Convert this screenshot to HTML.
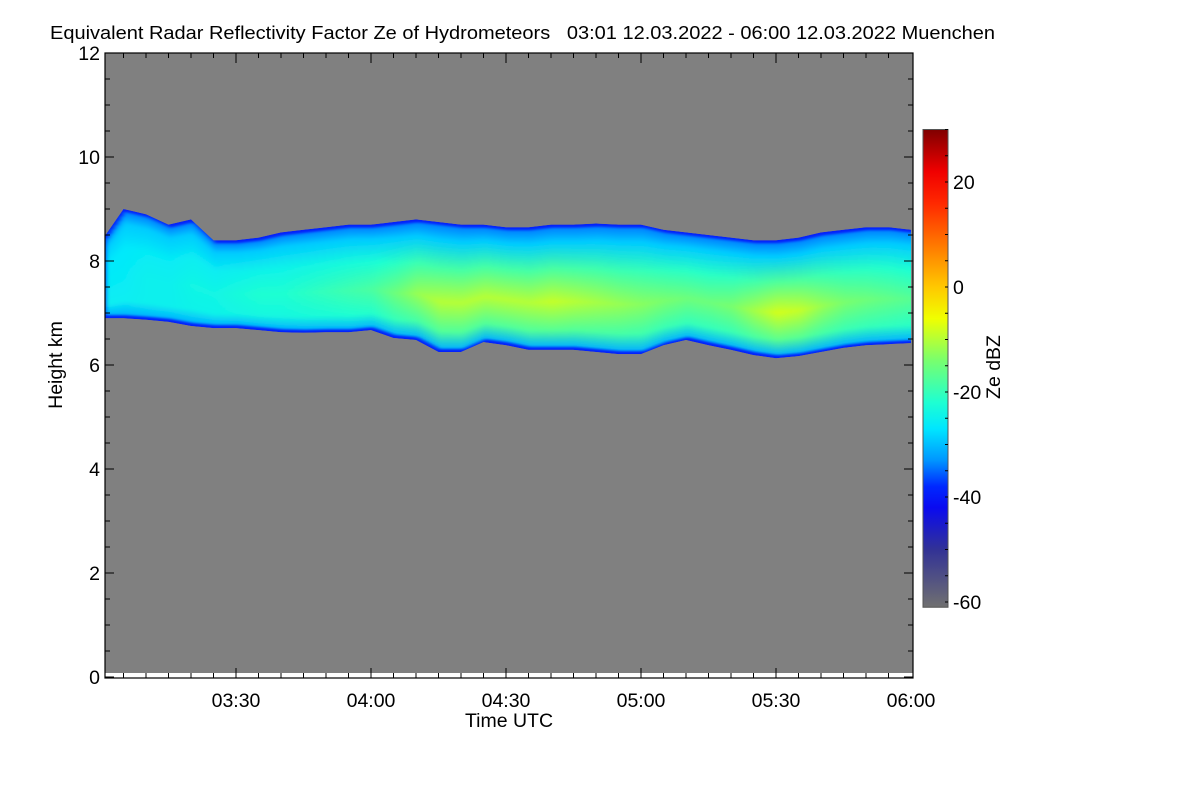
<!DOCTYPE html>
<html><head><meta charset="utf-8"><style>
body{margin:0;background:#fff;}
svg text{font-family:"Liberation Sans",sans-serif;fill:#000;}
</style></head><body>
<svg id="chart" width="1200" height="800" xmlns="http://www.w3.org/2000/svg">
<text x="50" y="39" font-size="18.5" textLength="945" lengthAdjust="spacingAndGlyphs" style="white-space:pre">Equivalent Radar Reflectivity Factor Ze of Hydrometeors   03:01 12.03.2022 - 06:00 12.03.2022 Muenchen</text>
<rect x="105" y="53" width="808" height="620" fill="#808080"/>
<defs id="defs"><filter id="blur" x="-5%" y="-5%" width="110%" height="110%"><feGaussianBlur stdDeviation="2.5 1"/></filter></defs>
<g id="cloud"></g>
<g id="axes"></g>
<g id="cbar"></g>
<text x="509" y="727" font-size="19.5" text-anchor="middle">Time UTC</text>
<text transform="translate(62,365) rotate(-90)" font-size="19.5" text-anchor="middle">Height km</text>
<text transform="translate(1000,367) rotate(-90)" font-size="19.5" text-anchor="middle">Ze dBZ</text>
</svg>
<script>
const times=[1,5,10,15,20,25,30,35,40,45,50,55,60,65,70,75,80,85,90,95,100,105,110,115,120,125,130,135,140,145,150,155,160,165,170,175,180];
const cloudTop=[8.5,9.0,8.9,8.7,8.8,8.4,8.4,8.45,8.55,8.6,8.65,8.7,8.7,8.75,8.8,8.75,8.7,8.7,8.65,8.65,8.7,8.7,8.72,8.7,8.7,8.6,8.55,8.5,8.45,8.4,8.4,8.45,8.55,8.6,8.65,8.65,8.6];
const cloudBase=[6.9,6.9,6.87,6.83,6.75,6.71,6.71,6.67,6.63,6.62,6.63,6.63,6.67,6.52,6.48,6.25,6.25,6.44,6.38,6.29,6.29,6.29,6.25,6.21,6.21,6.38,6.48,6.38,6.29,6.19,6.13,6.17,6.25,6.33,6.38,6.4,6.42];
const coreDbz=[-26,-26,-25,-25,-24,-24,-23,-22,-22,-21,-20,-19,-18,-15,-12,-10,-10,-10,-10,-10,-9,-10,-11,-12,-13,-14,-15,-15,-14,-11,-8,-9,-12,-14,-15,-16,-17];
const yTicks=[0,2,4,6,8,10,12];
const xTickMin=[30,60,90,120,150,180];
const xTickLabels=["03:30","04:00","04:30","05:00","05:30","06:00"];
const cbTicks=[20,0,-20,-40,-60];

const NS="http://www.w3.org/2000/svg";
const X=t=>236+(t-30)*4.5;
const Y=h=>677-h*52;
const CB=d=>287-d*5.25;
const stops=[[-61,[112,112,112]],[-50,[50,50,150]],[-42,[10,10,240]],[-38,[0,40,255]],[-33,[0,150,255]],[-27,[0,230,255]],[-22,[30,255,210]],[-14,[120,255,110]],[-6,[240,255,0]],[0,[255,200,0]],[8,[255,120,0]],[16,[255,40,0]],[22,[240,0,0]],[30,[128,0,0]]];
function col(d){
  if(d<=stops[0][0])return `rgb(${stops[0][1]})`;
  for(let i=1;i<stops.length;i++){if(d<=stops[i][0]){const a=stops[i-1],b=stops[i],f=(d-a[0])/(b[0]-a[0]);
    return `rgb(${a[1].map((v,k)=>Math.round(v+(b[1][k]-v)*f)).join(',')})`;}}
  return `rgb(${stops[stops.length-1][1]})`;
}
function mk(tag,attrs,parent){const e=document.createElementNS(NS,tag);for(const k in attrs)e.setAttribute(k,attrs[k]);parent.appendChild(e);return e;}
function at(arr,t){ // value of series at time t for rendering between samples
  for(let i=1;i<times.length;i++){if(t<=times[i]){const f=(t-times[i-1])/(times[i]-times[i-1]);return arr[i-1]+(arr[i]-arr[i-1])*f;}}
  return arr[arr.length-1];
}
const defs=document.getElementById('defs');
let pts=times.map((t,i)=>`${X(t)},${Y(cloudTop[i])}`).concat(times.slice().reverse().map((t,j)=>{const i=times.length-1-j;return `${X(t)},${Y(cloudBase[i])}`;}));
const cp=mk('clipPath',{id:'cloudclip'},defs);
mk('polygon',{points:pts.join(' ')},cp);
const cg=document.getElementById('cloud');
cg.setAttribute('clip-path','url(#cloudclip)');
// rim of blue
const rim=mk('polygon',{points:pts.join(' '),fill:col(-39)},cg);


const inner=mk('g',{filter:'url(#blur)'},cg);
const step=3;
let gi=0;
for(let x=X(times[0]);x<X(times[times.length-1])+step;x+=step){
  const t=30+(x-236)/4.5;
  const top=at(cloudTop,t),base=at(cloudBase,t),c=at(coreDbz,t);
  const g=mk('linearGradient',{id:'g'+gi,x1:0,y1:0,x2:0,y2:1},defs);
  [[0,-34],[0.12,-29],[0.35,(c-27)/2],[0.62,c],[0.86,(c-25)/2],[1,-31]].forEach(s=>mk('stop',{offset:s[0],'stop-color':col(s[1])},g));
  const r=mk('rect',{x:x,y:Y(top)+3,width:step+0.6,height:Y(base)-Y(top)-6,fill:`url(#g${gi})`},inner);
  
  
  gi++;
}
const ax=document.getElementById('axes');
mk('rect',{x:105,y:53,width:808,height:625,fill:'none',stroke:'#000','stroke-width':1.2},ax);
yTicks.forEach(h=>{
  mk('line',{x1:105,x2:114,y1:Y(h),y2:Y(h),stroke:'#000'},ax);
  mk('line',{x1:904,x2:913,y1:Y(h),y2:Y(h),stroke:'#000'},ax);
  const tx=mk('text',{x:100,y:Y(h)+7,'font-size':19.5,'text-anchor':'end'},ax);tx.textContent=h;
  
  
});
for(let h=0.5;h<12;h+=0.5){if(h%2){mk('line',{x1:105,x2:110,y1:Y(h),y2:Y(h),stroke:'#000'},ax);mk('line',{x1:908,x2:913,y1:Y(h),y2:Y(h),stroke:'#000'},ax);}}
for(let m=5;m<180;m+=5){const big=m%30==0;mk('line',{x1:X(m),x2:X(m),y1:678,y2:big?668:673,stroke:'#000'},ax);mk('line',{x1:X(m),x2:X(m),y1:53,y2:big?63:58,stroke:'#000'},ax);}
xTickMin.forEach((m,i)=>{
  const tx=mk('text',{x:X(m),y:707,'font-size':19.5,'text-anchor':'middle'},ax);tx.textContent=xTickLabels[i];
  
  
});
const cb=document.getElementById('cbar');
const cgr=mk('linearGradient',{id:'cbg',x1:0,y1:1,x2:0,y2:0},defs);
stops.forEach(s=>mk('stop',{offset:(s[0]+61)/91,'stop-color':col(s[0])},cgr));
mk('rect',{x:923,y:CB(30),width:25,height:CB(-61)-CB(30),fill:'url(#cbg)',stroke:'#555','stroke-width':1},cb);
for(let d=-60;d<=30;d+=5){mk('line',{x1:945,x2:948,y1:CB(d),y2:CB(d),stroke:'#000'},cb);}
cbTicks.forEach(d=>{
  const tx=mk('text',{x:953,y:CB(d)+7,'font-size':19.5},cb);tx.textContent=d;
  
  
});
</script>
</body></html>
